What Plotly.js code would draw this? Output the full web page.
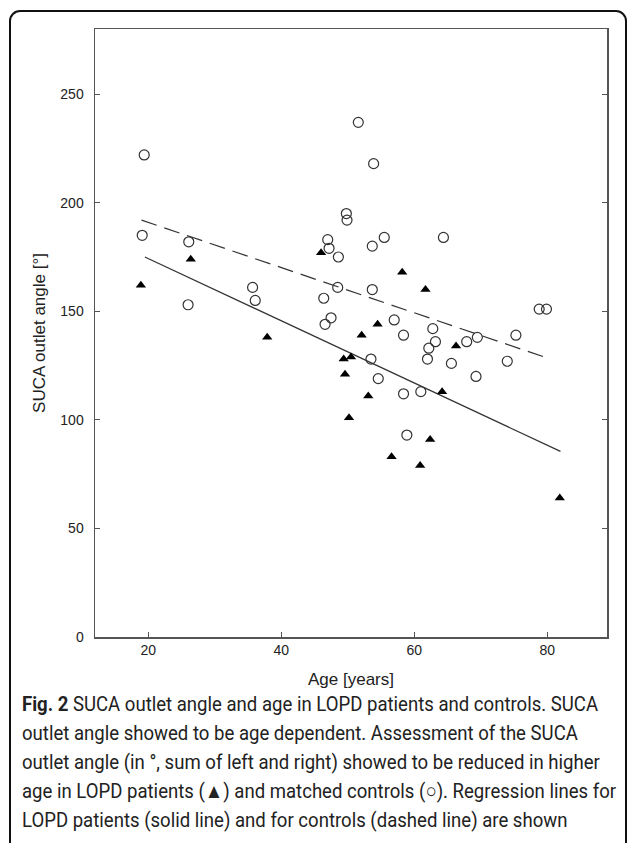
<!DOCTYPE html>
<html>
<head>
<meta charset="utf-8">
<script src="https://cdn.plot.ly/plotly-3.0.1.min.js"></script>
<style>
  html, body { margin: 0; padding: 0; background: #fff; }
  #wrap { position: relative; width: 627px; height: 843px; overflow: hidden; }
  #chart { position: absolute; left: 0; top: 0; width: 627px; height: 843px; }
  #frame { position: absolute; left: 9px; top: 10px; width: 618px; height: 900px;
           border: 2px solid #111; border-radius: 11px; box-sizing: border-box; pointer-events: none; }
  #caption { position: absolute; left: 22px; top: 690px; transform-origin: 0 0;
             font-family: "Roboto", sans-serif; font-size: 20.5px;
             line-height: 29px; color: #222; white-space: nowrap; }
  #caption span { display: block; }
  #caption b { font-weight: bold; }
</style>
</head>
<body>
<div id="wrap">
  <div id="chart"></div>
  <div id="frame"></div>
  <div id="caption">
    <span id="cap1"><b>Fig. 2</b> SUCA outlet angle and age in LOPD patients and controls. SUCA</span>
    <span>outlet angle showed to be age dependent. Assessment of the SUCA</span>
    <span>outlet angle (in °, sum of left and right) showed to be reduced in higher</span>
    <span>age in LOPD patients (▲) and matched controls (○). Regression lines for</span>
    <span>LOPD patients (solid line) and for controls (dashed line) are shown</span>
  </div>
</div>
<script>
// Controls (open circles)
const ctrlAge = [19.4, 19.1, 26.1, 26.0, 35.7, 36.1, 47.0, 47.2, 48.6, 48.5,
                 46.4, 47.5, 46.6, 51.6, 53.9, 49.8, 49.9, 55.5, 53.7, 64.4,
                 53.7, 78.8, 79.9, 57.0, 58.4, 62.8, 63.2, 62.2, 62.0, 67.9,
                 69.5, 75.3, 65.6, 74.0, 69.3, 53.5, 54.6, 58.4, 61.0, 58.9];
const ctrlAngle = [222, 185, 182, 153, 161, 155, 183, 179, 175, 161,
                   156, 147, 144, 237, 218, 195, 192, 184, 180, 184,
                   160, 151, 151, 146, 139, 142, 136, 133, 128, 136,
                   138, 139, 126, 127, 120, 128, 119, 112, 113, 93];
// LOPD patients (filled triangles)
const lopdAge = [18.9, 26.4, 37.9, 46.0, 58.2, 61.7, 54.5, 52.1, 66.3, 49.4,
                 50.5, 49.6, 53.1, 64.2, 50.2, 62.4, 56.6, 60.9, 81.9];
const lopdAngle = [162, 174, 138, 177, 168, 160, 144, 139, 134, 128,
                   129, 121, 111, 113, 101, 91, 83, 79, 64];
// Regression lines (end points)
const lopdFitAge = [19.5, 82.0];
const lopdFitAngle = [175, 85.5];
const ctrlFitAge = [19.0, 80.0];
const ctrlFitAngle = [192, 128.5];

const xTicks = [20, 40, 60, 80];
const yTicks = [0, 50, 100, 150, 200, 250];

const traces = [
  { x: lopdFitAge, y: lopdFitAngle, type: 'scatter', mode: 'lines',
    line: { color: '#333', width: 1.2 }, hoverinfo: 'skip', name: 'LOPD fit' },
  { x: ctrlFitAge, y: ctrlFitAngle, type: 'scatter', mode: 'lines',
    line: { color: '#333', width: 1.2, dash: '16px,8px' }, hoverinfo: 'skip', name: 'Control fit' },
  { x: ctrlAge, y: ctrlAngle, type: 'scatter', mode: 'markers', name: 'Controls',
    marker: { symbol: 'circle-open', size: 10, color: '#333', line: { width: 1.2 } } },
  { x: lopdAge, y: lopdAngle, type: 'scatter', mode: 'markers', name: 'LOPD',
    marker: { symbol: 'triangle-up', size: 9, color: '#000' } }
];

const axFont = { family: 'Liberation Sans, Arial, sans-serif', size: 14, color: '#222' };
const titleFont = { family: 'Liberation Sans, Arial, sans-serif', size: 17, color: '#222' };

const layout = {
  width: 627, height: 843,
  margin: { l: 95, r: 20, t: 29, b: 206 },
  paper_bgcolor: 'rgba(0,0,0,0)', plot_bgcolor: '#fff',
  showlegend: false,
  xaxis: {
    range: [12, 89], tickvals: xTicks, ticktext: xTicks.map(String),
    ticks: 'inside', ticklen: 5, tickcolor: '#555', tickwidth: 1.2,
    showline: true, linecolor: '#555', linewidth: 1.5, mirror: true,
    showgrid: false, zeroline: false, tickfont: axFont,
    title: { text: 'Age [years]', font: titleFont, standoff: 16 }
  },
  yaxis: {
    range: [0, 280], tickvals: yTicks, ticktext: yTicks.map(String),
    ticks: 'inside', ticklen: 5, tickcolor: '#555', tickwidth: 1.2,
    showline: true, linecolor: '#555', linewidth: 1.5, mirror: 'ticks',
    showgrid: false, zeroline: false, tickfont: axFont, ticklabelstandoff: 7,
    title: { text: 'SUCA outlet angle [°]', font: titleFont, standoff: 10 }
  }
};

Plotly.newPlot('chart', traces, layout, { displayModeBar: false, staticPlot: true });

// Fit caption to the reference line width (first line spans ~594px)
(function () {
  const cap = document.getElementById('caption');
  const w = document.getElementById('cap1').getBoundingClientRect().width;
  const s = 594 / w;
  cap.style.transform = 'scaleX(' + s.toFixed(4) + ')';
})();
</script>
</body>
</html>
